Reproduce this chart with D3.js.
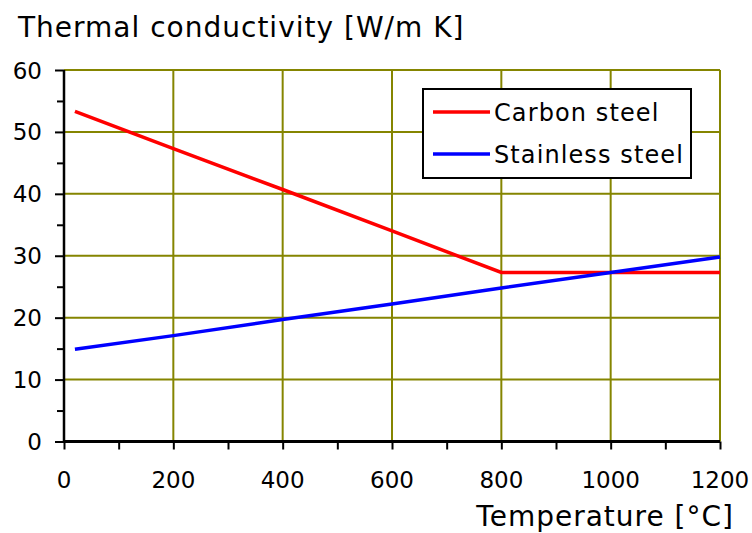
<!DOCTYPE html>
<html>
<head>
<meta charset="utf-8">
<script src="https://cdn.jsdelivr.net/npm/d3@7"></script>
<style>
  html, body { margin: 0; padding: 0; background: #fff; }
  svg { display: block; }
  text { font-family: "DejaVu Sans", Verdana, sans-serif; fill: #000; }
</style>
</head>
<body>
<svg id="chart" width="752" height="533"></svg>
<script>
// Temperatures in °C and conductivities in W/m K
const carbonTemps = [20, 200, 400, 600, 800, 1200];
const carbonK = [53.3, 47.3, 40.7, 34.0, 27.3, 27.3];
const stainlessTemps = [20, 200, 400, 600, 800, 1000, 1200];
const stainlessK = [14.9, 17.1, 19.7, 22.2, 24.8, 27.3, 29.8];
const seriesNames = ["Carbon steel", "Stainless steel"];
const seriesColors = ["#ff0000", "#0000ff"];
const xTicks = [0, 200, 400, 600, 800, 1000, 1200];
const yTicks = [0, 10, 20, 30, 40, 50, 60];
const yTitle = "Thermal conductivity [W/m K]";
const xTitle = "Temperature [°C]";

(function draw() {
  const svg = d3.select("#chart");
  const plotLeft = 64, plotRight = 720, plotTop = 70, plotBottom = 441.5;

  const x = d3.scaleLinear().domain([0, 1200]).range([plotLeft, plotRight]);
  const y = d3.scaleLinear().domain([0, 60]).range([plotBottom, plotTop]);

  const grid = "#858500";

  // grid lines
  svg.append("g").selectAll("line").data(yTicks.filter(d => d > 0)).join("line")
    .attr("x1", plotLeft).attr("x2", plotRight)
    .attr("y1", d => y(d)).attr("y2", d => y(d))
    .attr("stroke", grid).attr("stroke-width", 2);
  svg.append("g").selectAll("line").data(xTicks.filter(d => d > 0)).join("line")
    .attr("x1", d => x(d)).attr("x2", d => x(d))
    .attr("y1", plotTop).attr("y2", plotBottom)
    .attr("stroke", grid).attr("stroke-width", 2);

  // axes with major and minor ticks
  const xMinor = d3.range(0, 1201, 100);
  const yMinor = d3.range(0, 61, 5);
  const xAxis = svg.append("g").attr("transform", `translate(0,${plotBottom})`)
    .call(d3.axisBottom(x).tickValues(xMinor).tickSize(8).tickFormat(""));
  xAxis.select(".domain").attr("stroke-width", 3).attr("d", `M${plotLeft},0H${plotRight}`);
  xAxis.selectAll(".tick line").attr("stroke-width", 2);

  const yAxis = svg.append("g").attr("transform", `translate(${plotLeft},0)`)
    .call(d3.axisLeft(y).tickValues(yMinor).tickSize(9).tickFormat(""));
  yAxis.select(".domain").attr("stroke-width", 2.5).attr("d", `M0,${plotBottom}V${plotTop}`);
  yAxis.selectAll(".tick line").attr("stroke-width", 2)
    .attr("x2", d => (d % 10 === 0 ? -9 : -7));

  // tick labels
  svg.append("g").selectAll("text").data(xTicks).join("text")
    .attr("x", d => x(d)).attr("y", 488)
    .attr("text-anchor", "middle")
    .attr("font-size", 23)
    .text(d => d);
  svg.append("g").selectAll("text").data(yTicks).join("text")
    .attr("x", 42).attr("y", d => y(d) + 8.5)
    .attr("text-anchor", "end")
    .attr("font-size", 23)
    .text(d => d);

  // titles
  svg.append("text").attr("x", 18).attr("y", 37)
    .attr("font-size", 28).attr("letter-spacing", 1)
    .text(yTitle);
  svg.append("text").attr("x", 734).attr("y", 526)
    .attr("text-anchor", "end")
    .attr("font-size", 28).attr("letter-spacing", 1)
    .text(xTitle);

  // series lines
  const line = d3.line().x(d => x(d[0])).y(d => y(d[1]));
  const series = [
    d3.zip(carbonTemps, carbonK),
    d3.zip(stainlessTemps, stainlessK)
  ];
  svg.append("g").selectAll("path").data(series).join("path")
    .attr("d", line)
    .attr("fill", "none")
    .attr("stroke", (d, i) => seriesColors[i])
    .attr("stroke-width", 3.5);

  // legend
  const lg = svg.append("g");
  lg.append("rect").attr("x", 423).attr("y", 89).attr("width", 268).attr("height", 89)
    .attr("fill", "#fff").attr("stroke", "#000").attr("stroke-width", 2);
  const rows = lg.selectAll("g.row").data(seriesNames).join("g")
    .attr("transform", (d, i) => `translate(0,${112 + i * 42})`);
  rows.append("line").attr("x1", 433).attr("x2", 490).attr("y1", 0).attr("y2", 0)
    .attr("stroke", (d, i) => seriesColors[i]).attr("stroke-width", 3.5);
  rows.append("text").attr("x", 494).attr("y", 9)
    .attr("font-size", 24).attr("letter-spacing", 1.1)
    .text(d => d);
})();
</script>
</body>
</html>
